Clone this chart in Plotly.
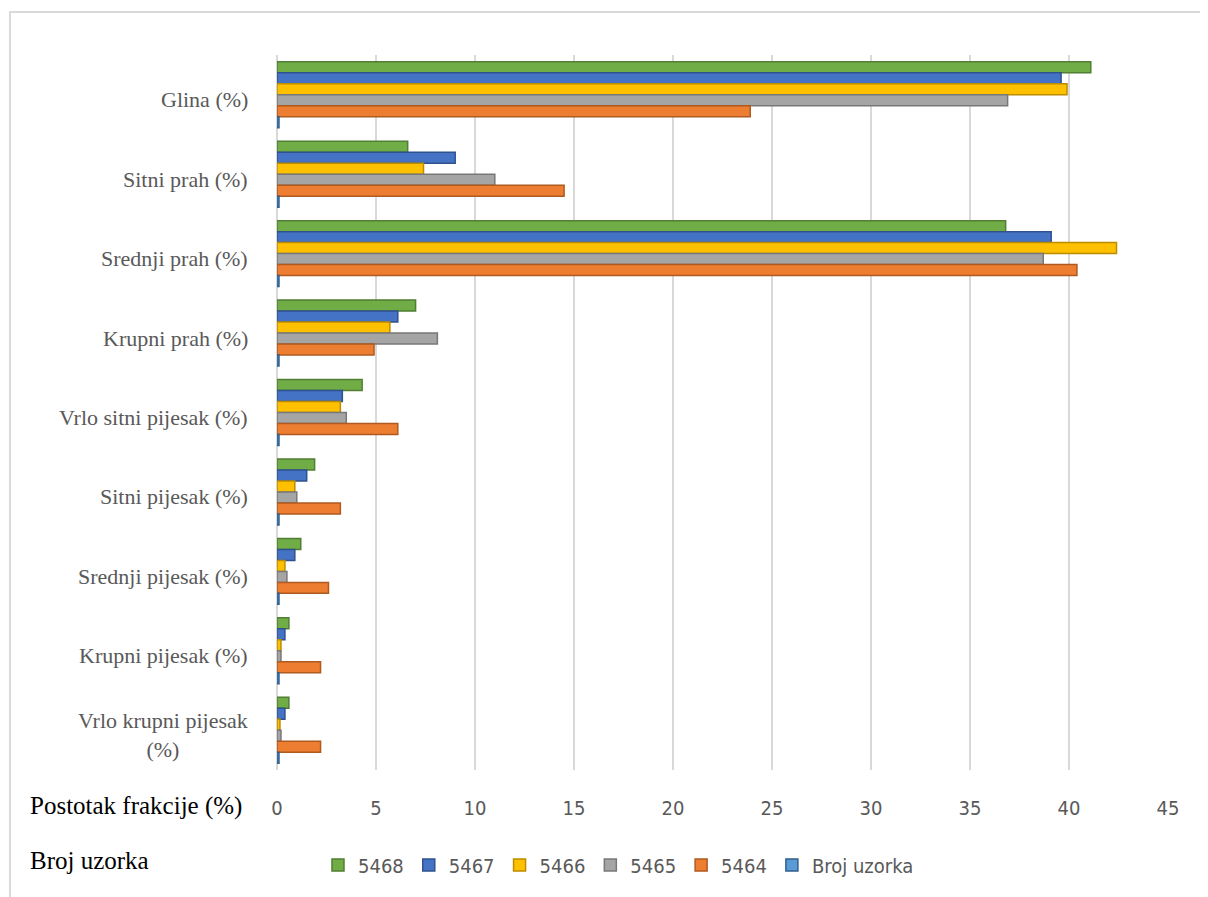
import plotly.graph_objects as go

categories = ["Glina (%)", "Sitni prah (%)", "Srednji prah (%)", "Krupni prah (%)",
              "Vrlo sitni pijesak (%)", "Sitni pijesak (%)", "Srednji pijesak (%)",
              "Krupni pijesak (%)", "Vrlo krupni pijesak<br>(%)"]
series_names = ["5468", "5467", "5466", "5465", "5464", "Broj uzorka"]
s5468 = [41.1, 6.6, 36.8, 7.0, 4.3, 1.9, 1.2, 0.6, 0.6]
s5467 = [39.6, 9.0, 39.1, 6.1, 3.3, 1.5, 0.9, 0.4, 0.4]
s5466 = [39.9, 7.4, 42.4, 5.7, 3.2, 0.9, 0.4, 0.2, 0.15]
s5465 = [36.9, 11.0, 38.7, 8.1, 3.5, 1.0, 0.5, 0.2, 0.2]
s5464 = [23.9, 14.5, 40.4, 4.9, 6.1, 3.2, 2.6, 2.2, 2.2]
broj = [0.1, 0.1, 0.1, 0.1, 0.1, 0.1, 0.1, 0.1, 0.1]
x_ticks = [0, 5, 10, 15, 20, 25, 30, 35, 40, 45]

colors = ["#70AD47", "#4472C4", "#FFC000", "#A5A5A5", "#ED7D31", "#5B9BD5"]
edges = ["#507E32", "#2F528F", "#BC8C00", "#787878", "#AE5A21", "#2E5F8F"]

SERIF = "Liberation Serif, Times New Roman, serif"
COND = "DejaVu Sans Condensed, Liberation Sans Narrow, Arial Narrow, sans-serif"

fig = go.Figure()
for name, vals, c, e in zip(series_names, [s5468, s5467, s5466, s5465, s5464, broj], colors, edges):
    fig.add_trace(go.Bar(
        y=categories, x=vals, name=name, orientation="h",
        marker=dict(color=c, line=dict(color=e, width=1.5)),
    ))

for cat in categories:
    fig.add_annotation(x=-0.03, xref="paper", y=cat, yref="y", text=cat,
                       xanchor="right", align="center", showarrow=False, yshift=-5,
                       font=dict(family=SERIF, size=22, color="#595959"))

fig.add_annotation(x=-0.279, xref="paper", y=-0.05, yref="paper", text="Postotak frakcije (%)",
                   xanchor="left", yanchor="middle", showarrow=False,
                   font=dict(family=SERIF, size=25, color="#000000"))
fig.add_annotation(x=-0.279, xref="paper", y=-0.126, yref="paper", text="Broj uzorka",
                   xanchor="left", yanchor="middle", showarrow=False,
                   font=dict(family=SERIF, size=25, color="#000000"))

fig.add_shape(type="rect", xref="paper", yref="paper", x0=-0.2997, x1=1.06, y0=-0.2, y1=1.06,
              line=dict(color="#D9D9D9", width=2), fillcolor="rgba(0,0,0,0)", layer="below")

fig.update_layout(
    width=1208, height=897,
    margin=dict(l=269, r=48, t=47, b=135),
    paper_bgcolor="white", plot_bgcolor="white",
    barmode="group", bargap=0.17, bargroupgap=0,
    font=dict(family=COND, color="#595959", size=20),
    xaxis=dict(range=[0, 45], tickvals=x_ticks, showgrid=True, gridcolor="#D9D9D9", gridwidth=2,
               zeroline=True, zerolinecolor="#D9D9D9", zerolinewidth=2,
               ticks="", ticklabelstandoff=24, showline=False,
               tickfont=dict(family=COND, size=20, color="#595959")),
    yaxis=dict(categoryorder="array", categoryarray=categories, autorange="reversed",
               showticklabels=False, showgrid=False, zeroline=False, showline=False),
    legend=dict(orientation="h", x=0.046, xanchor="left", y=-0.133, yanchor="middle",
                font=dict(family=COND, size=20, color="#595959"),
                itemwidth=30, traceorder="normal"),
)

fig.write_html("out.html")
